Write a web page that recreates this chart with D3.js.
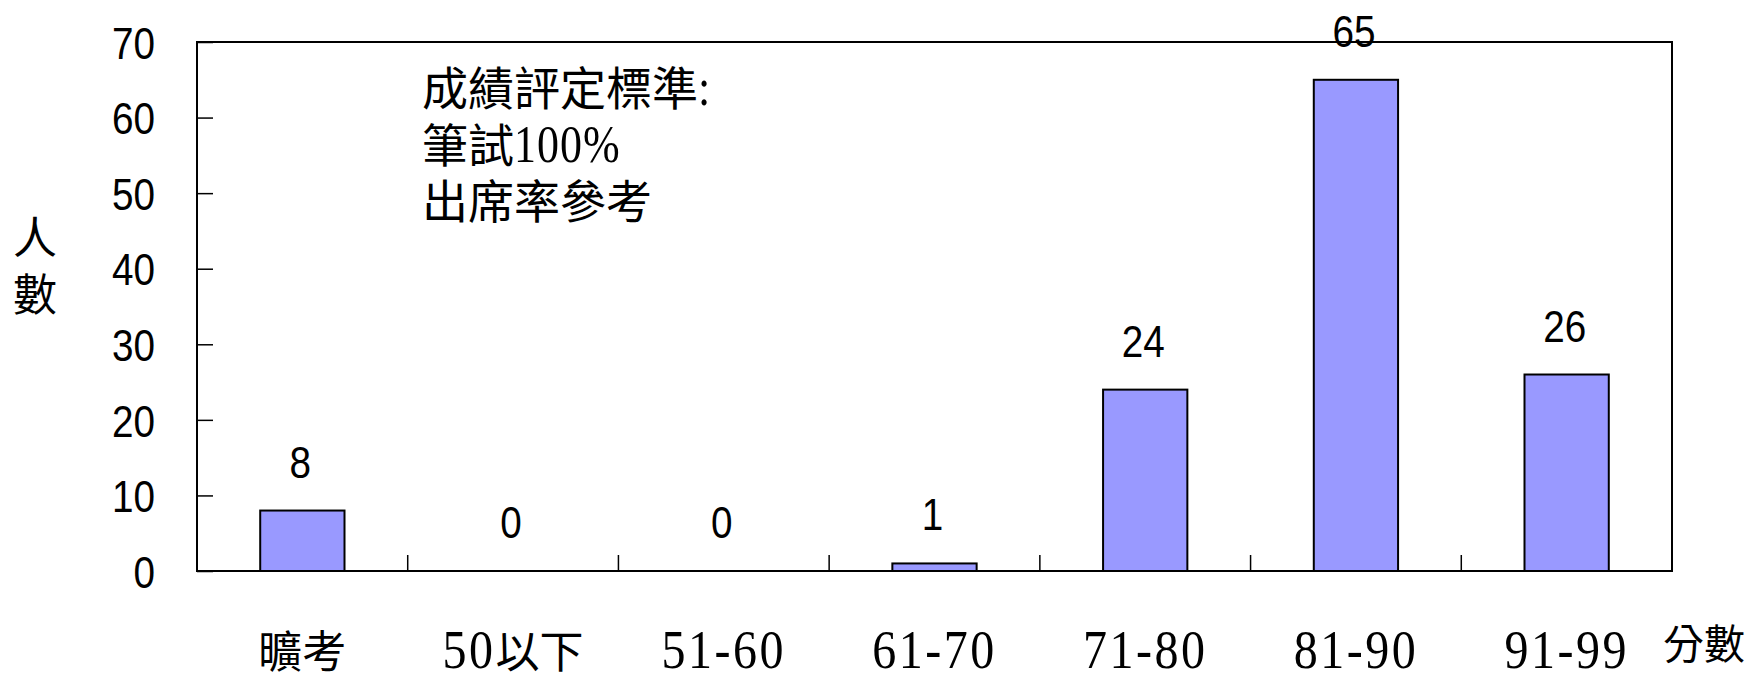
<!DOCTYPE html>
<html>
<meta charset="utf-8">
<head>
<style>
body { margin: 0; background: #fff; }
.frame { fill: none; stroke: #000; stroke-width: 2; }
.bar { fill: #9999ff; stroke: #000; stroke-width: 2; }
.axis line { stroke: #000; stroke-width: 1.5; }
.axis path.domain { display: none; }
.axis text, .value { font-family: 'Liberation Sans', Arial, sans-serif; font-size: 45px; fill: #000; }
</style>
</head>
<body>
<svg width="1758" height="674"></svg>

<script src="https://d3js.org/d3.v7.min.js"></script>
<script>

var categories = ["曠考", "50以下", "51-60", "61-70", "71-80", "81-90", "91-99"];
var counts = [8, 0, 0, 1, 24, 65, 26];
var yTicks = [0, 10, 20, 30, 40, 50, 60, 70];
var note = ["成績評定標準:", "筆試100%", "出席率參考"];
var yTitle = ["人", "數"];
var xTitle = "分數";

var SERIF = "'Liberation Serif', 'Times New Roman', serif",
  CJK = "'Noto Sans CJK TC', 'Noto Sans CJK SC', sans-serif";

var svg = d3.select("svg"),
  margin = {top: 42, right: 86, bottom: 103, left: 197},
  width = +svg.attr("width") - margin.left - margin.right,
  height = +svg.attr("height") - margin.top - margin.bottom;

var x = d3.scaleBand().domain(categories).range([0, width]),
  y = d3.scaleLinear().domain([0, 70]).range([height, 0]);

var barW = x.bandwidth() * 0.4;
var digitW = 21.5; // narrow sans digits

var g = svg.append("g")
  .attr("transform", "translate(" + margin.left + "," + margin.top + ")");

// draws mixed latin / cjk text as runs, latin ones in a tall serif
function richText(parent, str, o) {
  var runs = str.match(/[\x00-\x7f]+|[^\x00-\x7f]+/g);
  var cx = 0;
  runs.forEach(function(r) {
    var latin = /^[\x00-\x7f]+$/.test(r);
    var sp = latin ? (o.spacing || 0) : 0;
    var t = parent.append("text")
      .text(r)
      .attr("font-family", latin ? SERIF : CJK)
      .attr("font-size", latin ? o.latin : o.cjk)
      .attr("letter-spacing", sp)
      .attr("transform", "translate(" + cx + ",0)" + (latin ? " scale(1," + o.stretch + ")" : ""));
    cx += t.node().getComputedTextLength();
  });
  return cx;
}

// bars
g.selectAll("rect.bar")
  .data(counts)
  .enter().append("rect")
  .attr("class", "bar")
  .attr("x", function(d, i) { return x(categories[i]) + (x.bandwidth() - barW) / 2; })
  .attr("y", function(d) { return y(d); })
  .attr("width", barW)
  .attr("height", function(d) { return y(0) - y(d); });

// value labels
g.selectAll("text.value")
  .data(counts)
  .enter().append("text")
  .attr("class", "value")
  .attr("text-anchor", "middle")
  .attr("x", function(d, i) { return x(categories[i]) + x.bandwidth() / 2 - 2; })
  .attr("y", function(d) { return y(d) - 33; })
  .attr("textLength", function(d) { return String(d).length * digitW; })
  .attr("lengthAdjust", "spacingAndGlyphs")
  .text(function(d) { return d; });

// y axis, ticks pointing inward
g.append("g")
  .attr("class", "axis")
  .call(d3.axisLeft(y).tickValues(yTicks).tickSizeInner(-16).tickSizeOuter(0).tickPadding(42))
  .selectAll("text")
  .attr("dy", "0.36em")
  .attr("textLength", function(d) { return String(d).length * digitW; })
  .attr("lengthAdjust", "spacingAndGlyphs");

// category separators on the x axis
g.append("g")
  .attr("class", "axis")
  .selectAll("line")
  .data(categories.slice(1))
  .enter().append("line")
  .attr("x1", function(d) { return x(d); })
  .attr("x2", function(d) { return x(d); })
  .attr("y1", height)
  .attr("y2", height - 16);

// frame
g.append("rect")
  .attr("class", "frame")
  .attr("width", width)
  .attr("height", height);

// category labels
categories.forEach(function(c) {
  var lg = g.append("g");
  var w = richText(lg, c, {latin: 48, cjk: 44, stretch: 1.16, spacing: 2.5});
  lg.attr("transform", "translate(" + (x(c) + x.bandwidth() / 2 - w / 2) + "," + (height + 97) + ")");
});

// axis titles
var xt = svg.append("g").attr("transform", "translate(1663,659)");
richText(xt, xTitle, {latin: 44, cjk: 41, stretch: 1});

svg.selectAll("text.ytitle")
  .data(yTitle)
  .enter().append("text")
  .attr("class", "ytitle")
  .attr("font-family", CJK)
  .attr("font-size", 44)
  .attr("text-anchor", "middle")
  .attr("x", 35)
  .attr("y", function(d, i) { return 254 + i * 57; })
  .text(function(d) { return d; });

// grading note
note.forEach(function(line, i) {
  var ng = svg.append("g").attr("transform", "translate(422," + (105 + i * 56.5) + ")");
  richText(ng, line, {latin: 44, cjk: 46, stretch: 1.2, spacing: 1});
});

</script>
</body>
</html>
